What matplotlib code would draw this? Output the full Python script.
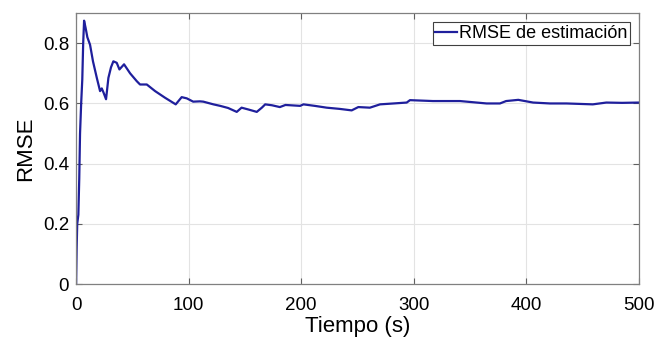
import matplotlib
matplotlib.use("Agg")
import matplotlib.pyplot as plt

plt.rcParams['font.family'] = ['Liberation Sans', 'DejaVu Sans']

tiempo = [0, 0.5, 1, 2, 2.8, 3.5, 4.5, 5.5, 6.3, 7.1, 8.5, 10, 12.4, 15, 18.4, 21.3, 22.8, 24.5, 26.6,
          28.7, 31, 33.1, 36.1, 38.5, 42.6, 48, 53.9, 56.8, 62.8, 70.2, 79, 88.5, 93.8, 98.3,
          104, 110, 113, 122, 128, 135, 142.7, 147, 153, 160.5, 165, 168, 174, 181, 186, 199,
          202, 212, 222.6, 234, 244.8, 250.7, 261, 270, 282, 293.7, 296.6, 317, 341, 364.7,
          376.5, 382, 392.8, 406, 421, 435.7, 459, 471, 485, 500]
rmse = [0.0, 0.12, 0.2, 0.23, 0.35, 0.5, 0.6, 0.68, 0.8, 0.875, 0.85, 0.82, 0.795, 0.74, 0.685,
        0.641, 0.65, 0.635, 0.614, 0.685, 0.72, 0.74, 0.735, 0.713, 0.73, 0.70, 0.674, 0.663,
        0.663, 0.641, 0.619, 0.597, 0.621, 0.617, 0.606, 0.607, 0.606, 0.597, 0.592, 0.585,
        0.572, 0.586, 0.580, 0.572, 0.586, 0.597, 0.594, 0.588, 0.595, 0.592, 0.597, 0.592,
        0.586, 0.582, 0.577, 0.588, 0.586, 0.597, 0.600, 0.603, 0.611, 0.608, 0.608, 0.600,
        0.600, 0.608, 0.612, 0.603, 0.600, 0.600, 0.597, 0.603, 0.602, 0.603]

xticks = [0, 100, 200, 300, 400, 500]
yticks = [0, 0.2, 0.4, 0.6, 0.8]
ytick_labels = ['0', '0.2', '0.4', '0.6', '0.8']

fig = plt.figure(figsize=(6.56, 3.37), dpi=100)
ax = fig.add_axes([0.116, 0.157, 0.858, 0.804])
ax.plot(tiempo, rmse, color='#1f1f9c', lw=1.6, label='RMSE de estimación')
ax.set_xlim(0, 500)
ax.set_ylim(0, 0.9)
ax.set_xticks(xticks)
ax.set_xticklabels([str(v) for v in xticks])
ax.set_yticks(yticks)
ax.set_yticklabels(ytick_labels)
ax.grid(True, color='#e3e3e3', lw=0.8)
ax.set_axisbelow(True)
for s in ax.spines.values():
    s.set_color('#808080')
    s.set_linewidth(0.9)
ax.tick_params(direction='in', length=4, color='#606060', labelsize=13.5, top=True, right=True)
ax.tick_params(axis='x', pad=9)
ax.tick_params(axis='y', pad=5)
ax.set_xlabel('Tiempo (s)', fontsize=16, labelpad=1.5)
ax.set_ylabel('RMSE', fontsize=16, labelpad=5)
leg = ax.legend(loc='upper right', fontsize=13, handlelength=1.2, handletextpad=0.1,
                borderpad=0.15, fancybox=False, framealpha=1, borderaxespad=0.5)
leg.get_frame().set_edgecolor('#404040')
leg.get_frame().set_linewidth(0.8)
fig.savefig('out.png', dpi=100)
